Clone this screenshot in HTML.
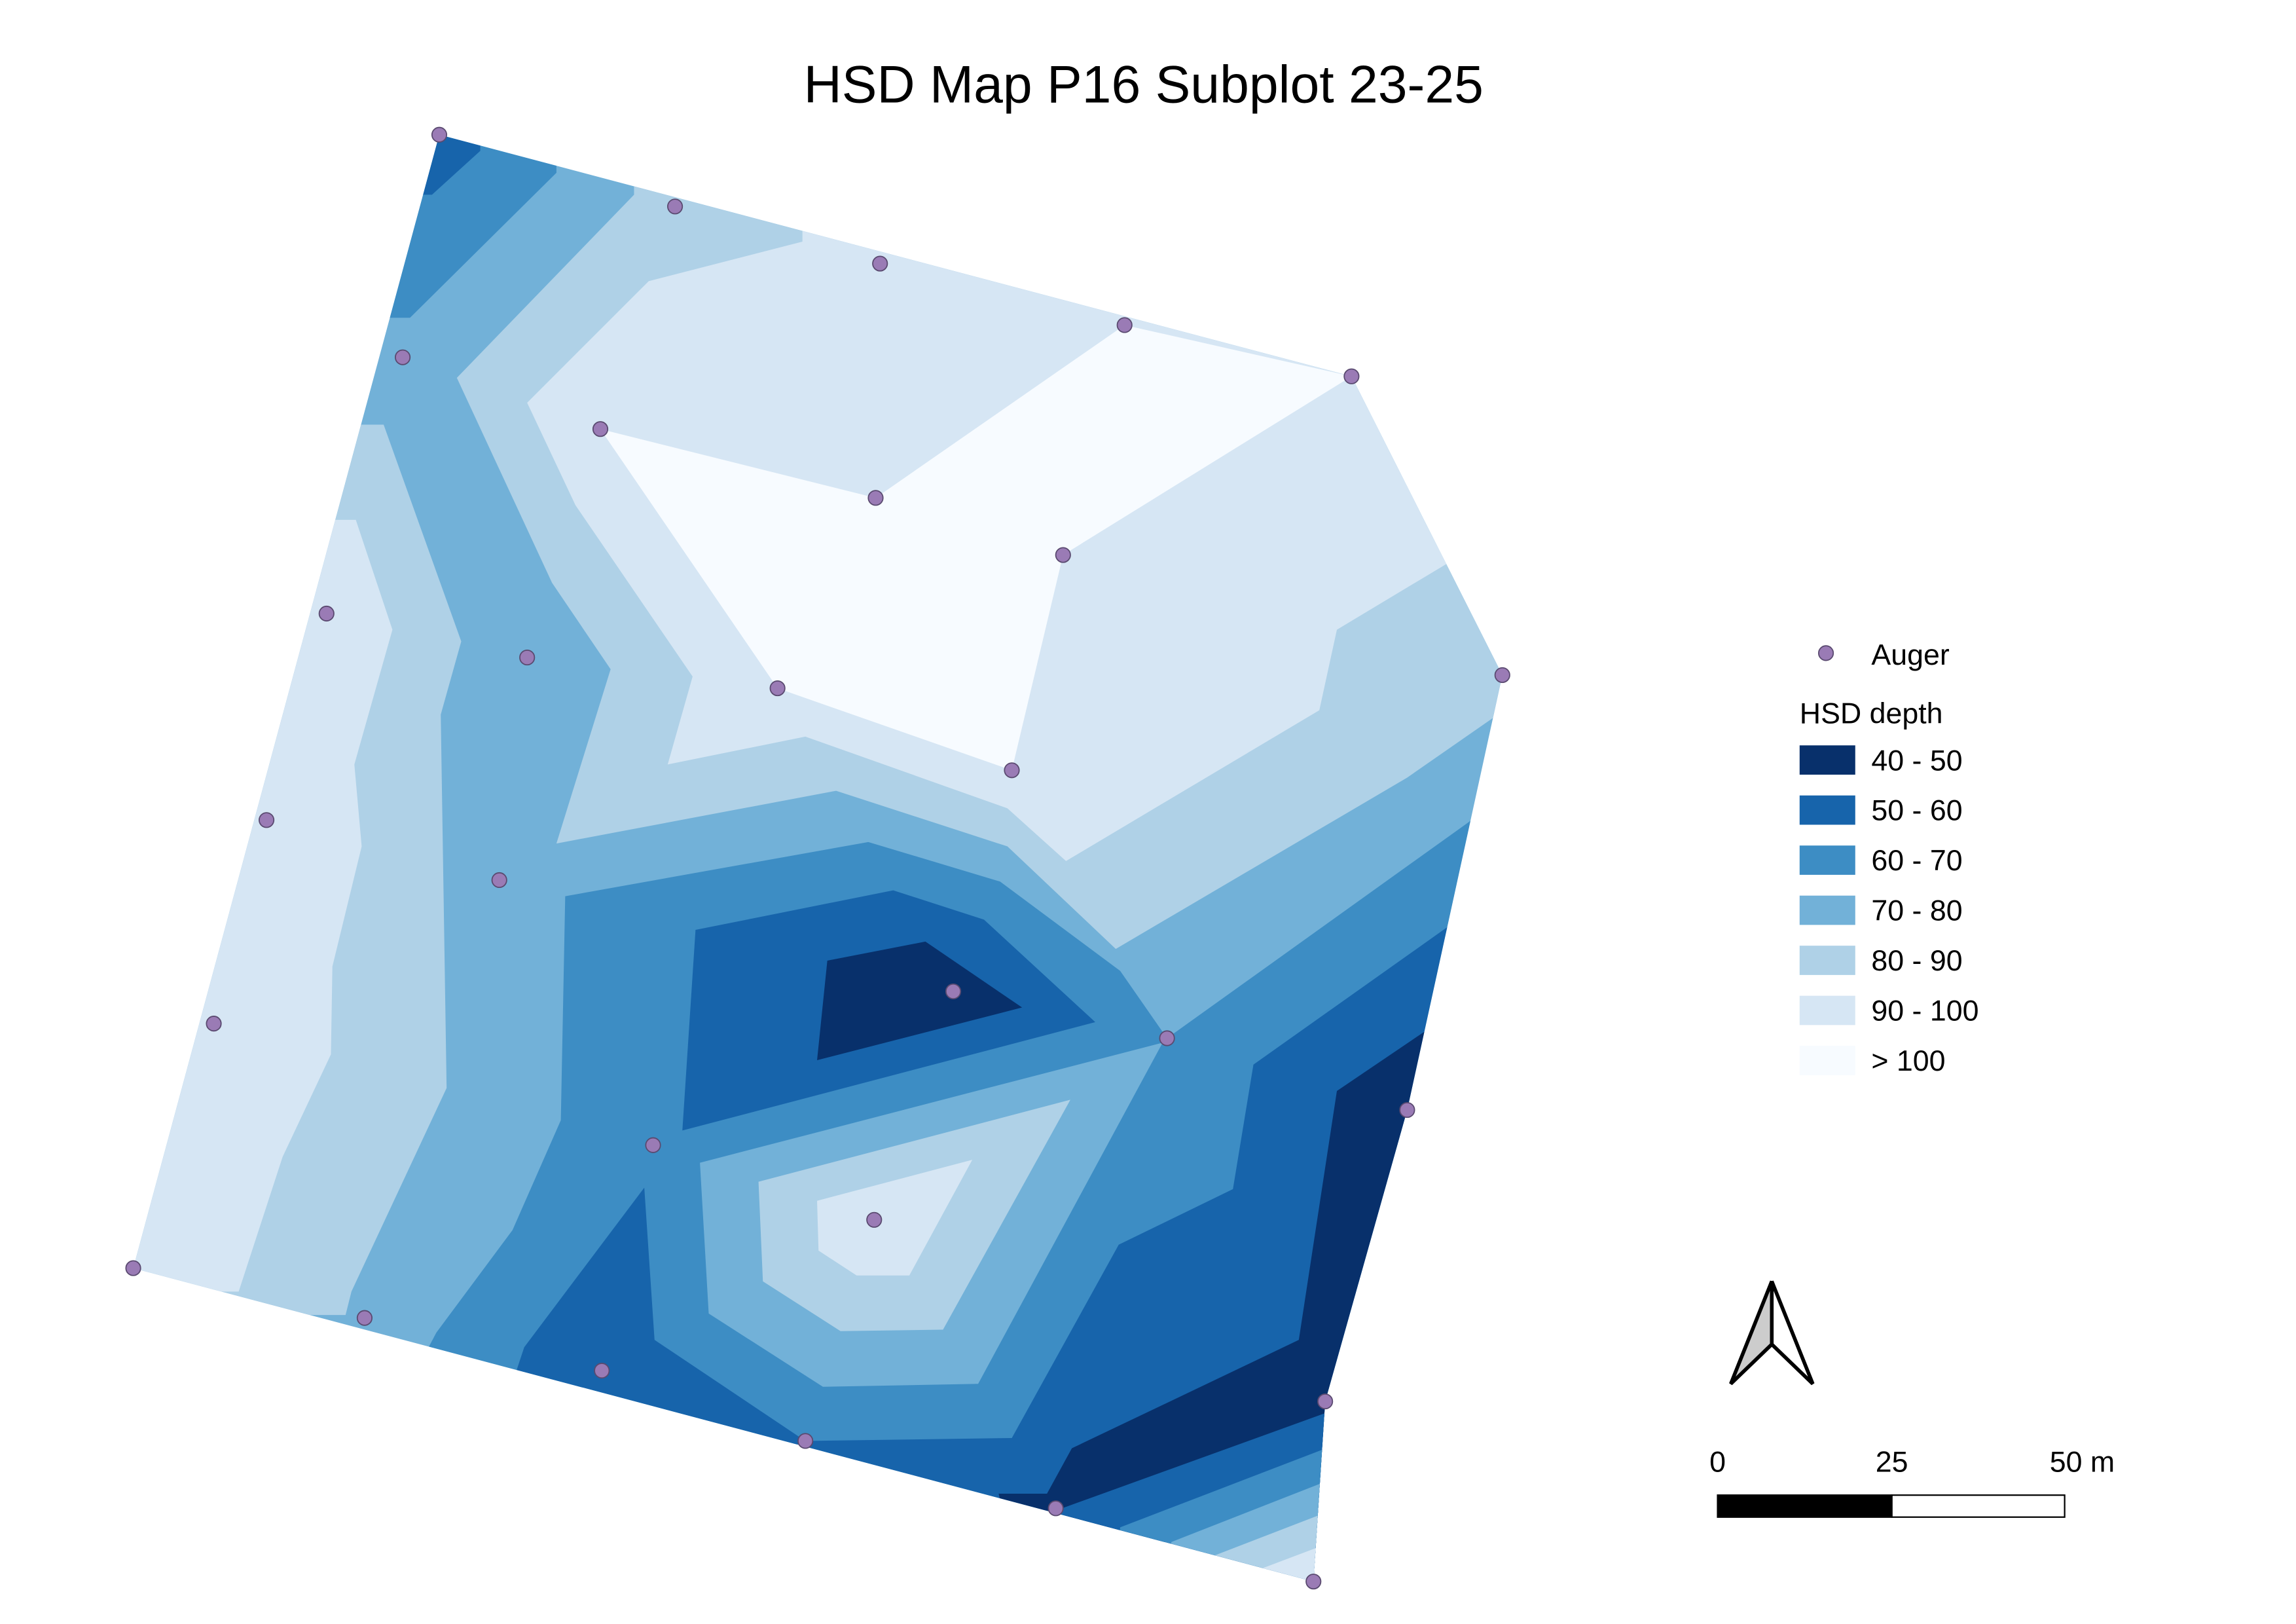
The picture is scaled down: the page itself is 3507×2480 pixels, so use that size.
<!DOCTYPE html>
<html><head><meta charset="utf-8"><title>HSD Map P16 Subplot 23-25</title>
<style>html,body{margin:0;padding:0;background:#fff;width:3507px;height:2480px;overflow:hidden}svg{display:block}text{font-family:"Liberation Sans","DejaVu Sans",sans-serif;fill:#000}</style>
</head><body>
<svg id="map" width="3507" height="2480" viewBox="0 0 1568 1109" preserveAspectRatio="none" xmlns="http://www.w3.org/2000/svg">
<defs><clipPath id="bnd"><polygon points="300,92 923,257 1026,461 961,758 905,957 897,1080 91,866"/></clipPath></defs>
<text x="781" y="70" font-size="36" text-anchor="middle">HSD Map P16 Subplot 23-25</text>
<g clip-path="url(#bnd)" stroke="none">
<rect x="80" y="85" width="960" height="1005" fill="#72b1d8"/>
<polygon fill="#afd1e7" points="433,133 312,258 377,398 417,457 380,576 571,540 688,578 762,648 961,531 1020,490 1100,490 1100,0 433,0"/>
<polygon fill="#afd1e7" points="262,290 315,438 301,488 305,743 240,882 236,898 0,898 0,290"/>
<polygon fill="#d6e6f4" points="548,165 443,192 360,275 393,345 473,462 456,522 550,503 688,552 728,588 901,485 913,430 988,385 1100,385 1100,0 548,0"/>
<polygon fill="#d6e6f4" points="243,355 268,430 242,522 247,578 227,660 226,720 193,790 163,882 0,882 0,355"/>
<polygon fill="#f7fbff" points="410,293 598,340 768,222 923,257 726,379 691,526 531,470"/>
<polygon fill="#3d8dc4" points="380,118 280,217 0,217 0,0 380,0"/>
<polygon fill="#1764ab" points="328,103 295,133 0,133 0,0 328,0"/>
<polygon fill="#3d8dc4" points="386,612 593,575 683,602 765,663 797,709 1005,560 1100,560 1100,1095 200,1095 298,910 350,840 383,765"/>
<polygon fill="#72b1d8" points="478,794 794,712 668,945 562,947 484,897"/>
<polygon fill="#afd1e7" points="518,807 731,751 644,908 574,909 521,875"/>
<polygon fill="#d6e6f4" points="558,820 664,792 621,871 585,871 559,854"/>
<polygon fill="#1764ab" points="475,635 610,608 672,628 748,698 466,772"/>
<polygon fill="#1764ab" points="358,920 440,811 447,915 550,984 300,1095"/>
<polygon fill="#1764ab" points="550,984 691,982 764,850 842,812 856,727 990,632 1100,632 1100,1095 520,1095"/>
<polygon fill="#08306b" points="565,656 632,643 698,688 558,724"/>
<polygon fill="#08306b" points="975,703 913,745 887,915 732,989 715,1020 682,1020 700,1095 1100,1095 1100,703"/>
<polygon fill="#1764ab" points="717,1033 905,965 1000,965 1000,1095 700,1095"/>
<polygon fill="#3d8dc4" points="765,1043 903,990 1000,990 1000,1095 760,1095"/>
<polygon fill="#72b1d8" points="800,1053 902,1013 1000,1013 1000,1095 795,1095"/>
<polygon fill="#afd1e7" points="830,1062 900,1035 1000,1035 1000,1095 825,1095"/>
<polygon fill="#d6e6f4" points="862,1071 899,1057 1000,1057 1000,1095 858,1095"/>
</g>
<g id="augers"></g>
<g>
<circle cx="1247" cy="446" r="5" fill="#9a7bb5" stroke="#5a4a70" stroke-width="0.8"/>
<text x="1278" y="454" font-size="20">Auger</text>
<text x="1229" y="494" font-size="20">HSD depth</text>
<g id="legend-items"></g>
</g>
<g stroke="#000" stroke-width="2.5" stroke-linejoin="miter">
<polygon points="1210,875 1182,945 1210,918" fill="#ccc"/>
<polygon points="1210,875 1238,945 1210,918" fill="#fff"/>
</g>
<g>
<rect x="1173" y="1021" width="119" height="15" fill="#000" stroke="#000" stroke-width="1"/>
<rect x="1292" y="1021" width="118" height="15" fill="#fff" stroke="#000" stroke-width="1"/>
<text x="1173" y="1005" font-size="20" text-anchor="middle">0</text>
<text x="1292" y="1005" font-size="20" text-anchor="middle">25</text>
<text x="1422" y="1005" font-size="20" text-anchor="middle">50 m</text>
</g>
</svg>
<script>
const augerX = [300,461,601,768,923,1026,961,905,897,721,550,411,249,91,146,182,223,275,410,598,726,531,691,360,341,651,797,446,597];
const augerY = [92,141,180,222,257,461,758,957,1080,1030,984,936,900,866,699,560,419,244,293,340,379,470,526,449,601,677,709,782,833];
const legendLabels = ["40 - 50","50 - 60","60 - 70","70 - 80","80 - 90","90 - 100","> 100"];
const legendColors = ["#08306b","#1764ab","#3d8dc4","#72b1d8","#afd1e7","#d6e6f4","#f7fbff"];
const NS="http://www.w3.org/2000/svg";
const g=document.getElementById('augers');
for(let i=0;i<augerX.length;i++){
  const c=document.createElementNS(NS,'circle');
  c.setAttribute('cx',augerX[i]);c.setAttribute('cy',augerY[i]);c.setAttribute('r',5);
  c.setAttribute('fill','#9a7bb5');c.setAttribute('stroke','#5a4a70');c.setAttribute('stroke-width','0.8');
  
  
  g.appendChild(c);
}
const L=document.getElementById('legend-items');
for(let i=0;i<legendLabels.length;i++){
  const y=509+i*34.2;
  const r=document.createElementNS(NS,'rect');
  r.setAttribute('x',1229);r.setAttribute('y',y);r.setAttribute('width',38);r.setAttribute('height',20);r.setAttribute('fill',legendColors[i]);
  
  
  L.appendChild(r);
  const t=document.createElementNS(NS,'text');
  t.setAttribute('x',1278);t.setAttribute('y',y+17);t.setAttribute('font-size',20);t.textContent=legendLabels[i];
  
  
  L.appendChild(t);
}
</script>
</body></html>
